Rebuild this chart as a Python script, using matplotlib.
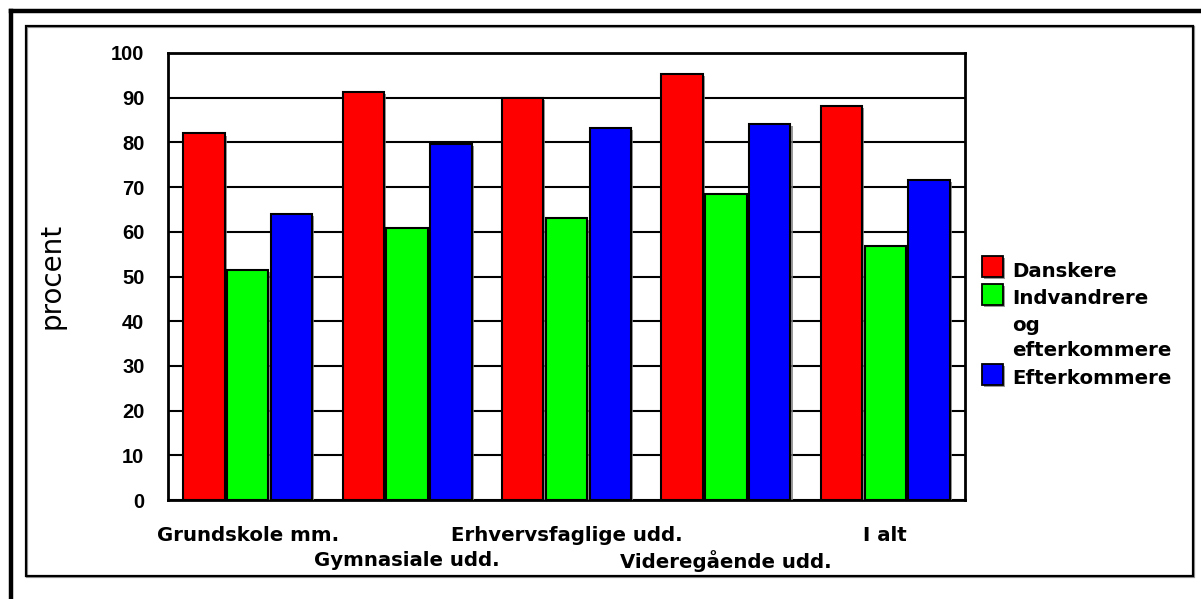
import matplotlib
matplotlib.use("Agg")
import matplotlib.pyplot as plt
import matplotlib.patheffects as pe
from matplotlib.patches import Rectangle
import numpy as np

categories = ["Grundskole mm.", "Gymnasiale udd.", "Erhvervsfaglige udd.",
              "Videregående udd.", "I alt"]
series_names = ["Danskere", "Indvandrere\nog\nefterkommere", "Efterkommere"]
danskere = [82, 91.3, 90, 95.3, 88.1]
indvandrere = [51.5, 60.8, 63.1, 68.5, 56.8]
efterkommere = [64, 79.6, 83.2, 84.1, 71.6]
colors = ["#ff0000", "#00ff00", "#0000ff"]
yticks = [0, 10, 20, 30, 40, 50, 60, 70, 80, 90, 100]

W, H = 1201, 599
fig = plt.figure(figsize=(W / 100, H / 100), dpi=100)
fig.patch.set_facecolor("white")
plt.rcParams["font.family"] = ["Liberation Sans", "DejaVu Sans"]
LBL = ["DejaVu Sans"]

def fx(x):
    return x / W

def fy(y):
    return 1 - y / H

# outer and inner frames
fig.add_artist(plt.Line2D([fx(11), fx(11)], [fy(11), fy(610)], color="black", lw=3.2,
                          transform=fig.transFigure))
fig.add_artist(plt.Line2D([fx(11), fx(1210)], [fy(11), fy(11)], color="black", lw=3.2,
                          transform=fig.transFigure))
inner = Rectangle((fx(26), fy(576)), fx(1193) - fx(26), fy(26) - fy(576),
                  transform=fig.transFigure, fill=False, edgecolor="black", lw=1.6,
                  path_effects=[pe.SimpleLineShadow(offset=(1, -1), shadow_color="gray", alpha=0.8),
                                pe.Normal()])
fig.add_artist(inner)

left, top, right, bottom = 168, 53, 965, 500
ax = fig.add_axes([fx(left), fy(bottom), fx(right) - fx(left), fy(top) - fy(bottom)])

x = np.arange(len(categories))
bw = 0.26
gap = 0.015
data = [danskere, indvandrere, efterkommere]
shadow = [pe.SimplePatchShadow(offset=(1.5, -1.5), shadow_rgbFace="gray", alpha=0.8), pe.Normal()]
for i, (vals, c) in enumerate(zip(data, colors)):
    ax.bar(x + (i - 1) * (bw + gap), vals, width=bw, color=c, edgecolor="black",
           linewidth=1.5, zorder=3, path_effects=shadow)

ax.set_xlim(-0.5, len(categories) - 0.5)
ax.set_ylim(0, 100)
ax.set_yticks(yticks)
ax.set_yticklabels([str(t) for t in yticks], fontsize=14.5, fontweight="bold")
ax.yaxis.grid(True, color="black", linewidth=1.5, zorder=0)
ax.set_axisbelow(True)
ax.tick_params(axis="y", length=0, pad=17)
ax.tick_params(axis="x", length=0)
ax.set_xticks(x)
ax.set_xticklabels([])
for s in ax.spines.values():
    s.set_linewidth(2)
    s.set_color("black")

# staggered category labels
for i, cat in enumerate(categories):
    yy = -0.08 if i % 2 == 0 else -0.136
    ax.text(x[i], yy, cat, transform=ax.get_xaxis_transform(), ha="center", va="center",
            fontsize=14.2, fontweight="bold", family=LBL)

fig.text(fx(52), fy(276), "procent", rotation=90, ha="center", va="center",
         fontsize=20, family=LBL)

# legend
patch_tops = [256, 284, 364]
line_y = [[271.5], [299, 325, 351], [379]]
for i, name in enumerate(series_names):
    fig.add_artist(Rectangle((fx(982), fy(patch_tops[i] + 21)), fx(21), fy(0) - fy(21),
                             transform=fig.transFigure, facecolor=colors[i], edgecolor="black",
                             lw=1.3, path_effects=shadow))
    for ln, yy in zip(name.split("\n"), line_y[i]):
        fig.text(fx(1012), fy(yy), ln, ha="left", va="center", fontsize=14.2,
                 fontweight="bold", family=LBL)

fig.savefig("out.png", dpi=100)
